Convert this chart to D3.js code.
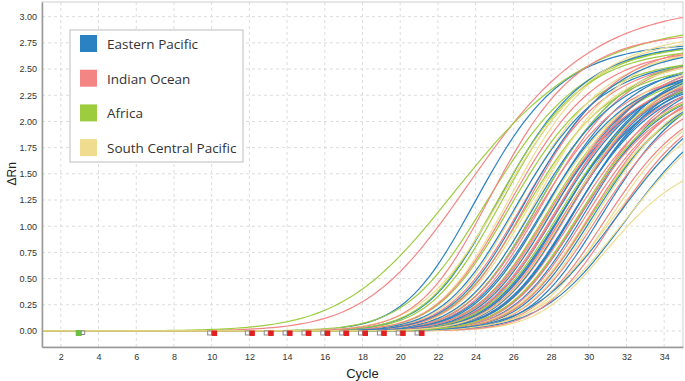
<!DOCTYPE html>
<html>
<head>
<meta charset="utf-8">
<script src="https://cdn.jsdelivr.net/npm/d3@7"></script>
<style>
  body { margin: 0; background: #fff; }
  svg { display: block; }
</style>
</head>
<body>
<svg id="amp-chart"></svg>
<script>
// qPCR amplification plot, delta Rn by cycle, coloured by region

// legend groups
const regions = ["Eastern Pacific", "Indian Ocean", "Africa", "South Central Pacific"];
const regionColors = ["#2a82c2", "#f48585", "#9dcd3f", "#efdc8e"];

// tick labels
const cycleTicks = [2, 4, 6, 8, 10, 12, 14, 16, 18, 20, 22, 24, 26, 28, 30, 32, 34];
const rnTicks = [0, 0.25, 0.5, 0.75, 1, 1.25, 1.5, 1.75, 2, 2.25, 2.5, 2.75, 3];

// one entry per well: [mid cycle, plateau dRn, spread (optional)]
const easternPacific = [
  [22.2, 2.75], [23.4, 2.75], [24.3, 2.6], [24.8, 2.7], [25.2, 2.55],
  [25.5, 2.65], [25.7, 2.5], [25.9, 2.6], [26.1, 2.45], [26.3, 2.55],
  [26.5, 2.5], [26.6, 2.6], [26.7, 2.45], [26.8, 2.5], [26.9, 2.55],
  [27.0, 2.45], [27.1, 2.5], [27.2, 2.6], [27.3, 2.45], [27.4, 2.5],
  [27.5, 2.55], [27.7, 2.4], [28.0, 2.5], [28.4, 2.4], [28.9, 2.45],
  [29.4, 2.45, 3.0], [29.9, 2.35, 2.9]
];
const indianOcean = [
  [21.07, 3.12, 3.6], [23.0, 2.85], [24.0, 2.7], [24.6, 2.6], [25.0, 2.75],
  [25.4, 2.5], [25.7, 2.65], [26.0, 2.45], [26.2, 2.55], [26.4, 2.5],
  [26.6, 2.6], [26.8, 2.4], [27.0, 2.5], [27.2, 2.55], [27.4, 2.4],
  [27.6, 2.35], [27.8, 2.5], [28.0, 2.4], [28.3, 2.45], [28.6, 2.35],
  [29.0, 2.3], [29.5, 2.3]
];
const africa = [
  [20.1, 2.95, 3.9], [22.6, 2.75, 2.8], [23.3, 2.7], [23.6, 2.75], [24.0, 2.6],
  [24.8, 2.55], [25.5, 2.65], [26.0, 2.5], [26.6, 2.45], [27.1, 2.55],
  [27.6, 2.4], [28.2, 2.35]
];
const southCentralPacific = [
  [23.4, 2.85, 2.8], [24.0, 2.8], [24.5, 2.7], [25.0, 2.6], [25.4, 2.75],
  [25.8, 2.5], [26.3, 2.6], [26.7, 2.45], [27.1, 2.55], [27.6, 2.4],
  [28.1, 2.35], [28.6, 2.45], [29.2, 2.3], [29.0, 2.2, 2.7], [29.7, 2.3, 3.0],
  [29.2, 1.7, 2.4]
];

// baseline start / end markers along the x axis
const baselineStart = [3];
const baselineEnd = [10, 12, 13, 14, 15, 16, 17, 18, 19, 20, 21];

const cycles = d3.range(1, 35.01, 0.25);

const width = 685, height = 381;
const margin = { top: 2, right: 2, bottom: 34, left: 42 };
const plotW = width - margin.left - margin.right;
const plotH = height - margin.top - margin.bottom;

const svg = d3.select("#amp-chart")
  .attr("width", width)
  .attr("height", height)
  .style("font-family", "'Liberation Sans', Arial, sans-serif");

const x = d3.scaleLinear().domain([1, 35]).range([margin.left, margin.left + plotW]);
const y = d3.scaleLinear().domain([-0.153, 3.14]).range([margin.top + plotH, margin.top]);

// grid
svg.append("g")
  .selectAll("line")
  .data(cycleTicks)
  .join("line")
  .attr("x1", d => x(d)).attr("x2", d => x(d))
  .attr("y1", margin.top).attr("y2", margin.top + plotH)
  .attr("stroke", "#dcdcdc").attr("stroke-dasharray", "3,3");

svg.append("g")
  .selectAll("line")
  .data(rnTicks)
  .join("line")
  .attr("x1", margin.left).attr("x2", margin.left + plotW)
  .attr("y1", d => y(d)).attr("y2", d => y(d))
  .attr("stroke", "#dcdcdc").attr("stroke-dasharray", "3,3");

// frame
svg.append("rect")
  .attr("x", margin.left).attr("y", margin.top)
  .attr("width", plotW).attr("height", plotH)
  .attr("fill", "none").attr("stroke", "#cfcfcf");

// curves: asymmetric sigmoid, fast exponential start, slow plateau approach
const dRn = w => c => w[1] / Math.pow(1 + Math.exp(-(c - w[0]) / (w[2] || 2.5)), 2);
const line = d3.line().x(d => x(d[0])).y(d => y(d[1]));

const groups = [easternPacific, indianOcean, africa, southCentralPacific];
let wells = [];
groups.forEach((g, gi) => g.forEach((w, i) => wells.push({ w, gi, i })));
// mix colours so no region sits wholly on top
wells.sort((a, b) => (a.i * 7 + a.gi * 3) % 11 - (b.i * 7 + b.gi * 3) % 11 || a.gi - b.gi);

svg.append("clipPath").attr("id", "plot-clip")
  .append("rect")
  .attr("x", margin.left - 2).attr("y", margin.top)
  .attr("width", plotW + 2).attr("height", plotH);

svg.append("g")
  .attr("clip-path", "url(#plot-clip)")
  .selectAll("path")
  .data(wells)
  .join("path")
  .attr("fill", "none")
  .attr("stroke", d => regionColors[d.gi])
  .attr("stroke-width", 1.2)
  .attr("d", d => line(cycles.map(c => [c, dRn(d.w)(c)])));

// axes
const xAxis = svg.append("g")
  .attr("transform", `translate(0,${margin.top + plotH})`)
  .call(d3.axisBottom(x).tickValues(cycleTicks).tickSize(0).tickPadding(7));
xAxis.select(".domain").attr("stroke", "#999").attr("stroke-width", 1.5);
xAxis.selectAll("text").attr("font-size", 9).attr("fill", "#333")
  .attr("font-family", "'Liberation Sans', Arial, sans-serif");

const yAxis = svg.append("g")
  .attr("transform", `translate(${margin.left},0)`)
  .call(d3.axisLeft(y).tickValues(rnTicks).tickFormat(d3.format(".2f")).tickSize(0).tickPadding(5));
yAxis.select(".domain").attr("stroke", "#999").attr("stroke-width", 1.5);
yAxis.selectAll("text").attr("font-size", 9).attr("fill", "#333")
  .attr("font-family", "'Liberation Sans', Arial, sans-serif");

// baseline markers
svg.append("g").selectAll("rect")
  .data(baselineStart)
  .join("rect")
  .attr("x", d => x(d) - 4).attr("y", y(0) - 1)
  .attr("width", 6).attr("height", 6)
  .attr("fill", "#6cc040");
svg.append("g").selectAll("rect")
  .data(baselineStart)
  .join("rect")
  .attr("x", d => x(d) + 1.5).attr("y", y(0))
  .attr("width", 3.5).attr("height", 3.5)
  .attr("fill", "#fff").attr("stroke", "#888").attr("stroke-width", 1);

svg.append("g").selectAll("rect")
  .data(baselineEnd)
  .join("rect")
  .attr("x", d => x(d) - 4).attr("y", y(0))
  .attr("width", 4).attr("height", 4)
  .attr("fill", "#fff").attr("stroke", "#888").attr("stroke-width", 1);
svg.append("g").selectAll("rect")
  .data(baselineEnd)
  .join("rect")
  .attr("x", d => x(d)).attr("y", y(0) - 0.5)
  .attr("width", 5.5).attr("height", 5.5)
  .attr("fill", "#e02020");

// axis titles
svg.append("text")
  .attr("x", x(18)).attr("y", 378)
  .attr("text-anchor", "middle")
  .attr("font-size", 13).attr("fill", "#222")
  .text("Cycle");

svg.append("text")
  .attr("transform", `translate(16,${y(1.5)}) rotate(-90)`)
  .attr("text-anchor", "middle")
  .attr("font-size", 12).attr("fill", "#222")
  .text("ΔRn");

// legend
const legend = svg.append("g").attr("transform", "translate(70,30)");
legend.append("rect")
  .attr("width", 173).attr("height", 132)
  .attr("fill", "#fff").attr("stroke", "#bdbdbd");
regions.forEach((r, i) => {
  legend.append("rect")
    .attr("x", 10).attr("y", 5 + i * 34.7)
    .attr("width", 17).attr("height", 17)
    .attr("fill", regionColors[i]);
  legend.append("text")
    .attr("x", 37).attr("y", 19 + i * 34.7)
    .attr("font-family", "'Open Sans', 'Noto Sans', sans-serif")
    .attr("font-size", 13.5).attr("fill", "#333")
    .text(r);
});
</script>
</body>
</html>
